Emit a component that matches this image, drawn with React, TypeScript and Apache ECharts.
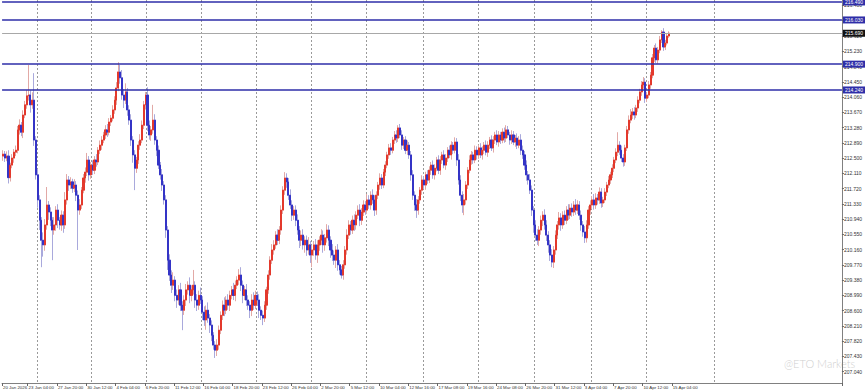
import React, { useEffect, useRef } from "react";
import * as echarts from "echarts";

// H4 candles, closes (open = previous close)
const firstOpen = 212.55;
const closes = [
  212.60,212.50,212.55,212.00,212.32,212.50,212.65,212.70,213.22,213.34,
  213.16,213.60,213.86,214.09,214.11,213.86,213.98,212.96,212.07,211.43,
  210.91,210.40,210.28,210.79,211.30,211.12,210.91,210.66,210.79,211.17,
  210.91,210.79,211.04,210.79,211.43,211.94,211.81,211.89,211.73,211.81,
  211.55,211.17,211.30,211.68,211.99,212.14,212.45,212.07,212.32,212.19,
  212.45,212.40,212.70,212.83,212.96,213.09,213.22,213.16,213.42,213.52,
  213.73,213.98,214.29,214.70,214.55,214.11,213.98,214.19,213.73,213.47,
  212.96,212.58,212.24,212.45,212.83,212.96,213.34,213.86,214.11,213.34,
  213.09,213.22,213.47,212.96,212.70,212.32,212.07,211.81,211.43,210.66,
  209.89,209.51,209.25,209.38,208.99,208.87,209.13,208.74,208.61,208.87,
  209.13,209.25,208.99,209.13,209.25,208.87,208.74,208.99,208.87,208.56,
  208.36,208.61,208.41,208.23,207.97,207.72,207.59,207.72,208.10,208.48,
  208.74,208.61,208.87,208.74,208.99,209.13,208.99,209.25,209.38,209.51,
  209.25,208.99,209.13,208.87,208.74,208.61,208.87,208.74,208.99,208.87,
  208.61,208.48,208.41,208.74,209.13,209.51,209.89,210.15,210.28,210.53,
  210.40,210.66,211.17,211.68,211.99,211.89,211.55,211.30,211.04,211.17,
  210.91,210.66,210.40,210.53,210.28,210.40,210.15,210.28,210.02,210.15,
  210.28,210.02,210.28,210.40,210.53,210.28,210.46,210.66,210.40,210.15,
  210.02,209.89,210.15,209.77,209.64,209.51,209.77,210.15,210.53,210.79,
  210.66,210.91,210.79,211.04,211.17,210.91,211.12,211.30,211.17,211.43,
  211.30,211.55,211.43,211.17,211.55,211.81,211.99,211.81,212.14,212.32,
  212.58,212.76,212.70,212.96,213.09,213.01,213.27,213.09,212.83,212.96,
  212.70,212.83,212.58,212.07,211.55,211.30,211.17,211.43,211.68,211.94,
  211.81,212.07,211.94,212.19,212.32,212.07,212.24,212.45,212.19,212.45,
  212.58,212.32,212.50,212.70,212.58,212.83,212.70,212.91,212.45,211.94,
  211.55,211.30,211.43,211.81,212.19,212.45,212.58,212.45,212.70,212.58,
  212.76,212.58,212.70,212.83,212.65,212.83,212.96,212.76,212.96,213.09,
  212.91,213.09,212.96,213.16,213.01,213.22,213.09,212.96,213.09,212.91,
  213.01,212.83,212.96,212.70,212.58,212.32,212.07,211.94,211.68,211.17,
  210.79,210.53,210.40,210.66,210.91,211.04,210.79,210.53,210.28,210.02,
  209.84,210.15,210.53,210.79,210.97,210.79,211.04,210.91,211.17,211.04,
  211.22,211.12,211.30,211.17,211.30,211.04,210.79,210.61,210.46,210.79,
  211.17,211.30,211.43,211.30,211.48,211.43,211.63,211.35,211.43,211.63,
  211.81,211.94,212.07,212.24,212.45,212.65,212.83,212.70,212.50,212.40,
  212.76,213.22,213.47,213.60,213.68,213.60,213.78,213.98,214.19,214.37,
  214.44,214.03,214.11,214.37,214.62,215.06,215.31,215.01,215.26,215.52,
  215.72,215.34,215.44,215.62,215.69,
];
const upperWicks = [
  0.10,0.08,0.12,0.15,0.06,0.10,0.08,0.12,0.10,0.15,
  0.08,0.12,0.10,0.15,0.77,0.12,0.20,0.69,0.10,0.15,
  0.12,0.08,0.20,0.15,0.46,0.10,0.12,0.08,0.20,0.10,
  0.15,0.08,0.12,0.10,0.20,0.15,0.10,0.12,0.08,0.15,
  0.10,0.12,0.15,0.08,0.10,0.12,0.18,0.10,0.08,0.12,
  0.10,0.15,0.08,0.12,0.10,0.08,0.12,0.15,0.10,0.08,
  0.12,0.10,0.15,0.25,0.18,0.20,0.15,0.22,0.10,0.12,
  0.15,0.10,0.12,0.08,0.10,0.15,0.12,0.10,0.08,0.20,
  0.12,0.10,0.39,0.15,0.10,0.12,0.08,0.15,0.10,0.12,
  0.10,0.15,0.12,0.20,0.10,0.15,0.12,0.18,0.10,0.12,
  0.15,0.10,0.20,0.12,0.39,0.10,0.15,0.12,0.20,0.10,
  0.15,0.12,0.20,0.10,0.12,0.08,0.10,0.15,0.12,0.10,
  0.12,0.20,0.10,0.15,0.12,0.10,0.18,0.12,0.10,0.15,
  0.20,0.12,0.10,0.15,0.12,0.10,0.15,0.20,0.12,0.10,
  0.15,0.10,0.12,0.10,0.08,0.12,0.10,0.15,0.12,0.10,
  0.15,0.10,0.12,0.10,0.15,0.12,0.10,0.15,0.12,0.10,
  0.12,0.15,0.10,0.12,0.15,0.10,0.12,0.20,0.10,0.12,
  0.10,0.15,0.12,0.10,0.15,0.12,0.10,0.15,0.12,0.10,
  0.15,0.12,0.10,0.15,0.12,0.10,0.12,0.10,0.15,0.12,
  0.10,0.12,0.15,0.10,0.12,0.15,0.10,0.12,0.10,0.15,
  0.12,0.10,0.15,0.12,0.10,0.08,0.12,0.10,0.08,0.10,
  0.08,0.10,0.12,0.08,0.10,0.12,0.07,0.10,0.12,0.08,
  0.10,0.12,0.08,0.10,0.12,0.10,0.15,0.10,0.08,0.12,
  0.10,0.08,0.12,0.10,0.08,0.12,0.10,0.08,0.12,0.10,
  0.08,0.12,0.10,0.08,0.12,0.10,0.08,0.12,0.10,0.15,
  0.12,0.10,0.15,0.10,0.08,0.12,0.10,0.08,0.12,0.10,
  0.08,0.12,0.10,0.08,0.12,0.10,0.08,0.12,0.10,0.08,
  0.12,0.10,0.08,0.10,0.12,0.12,0.10,0.08,0.12,0.10,
  0.08,0.12,0.10,0.15,0.12,0.10,0.12,0.10,0.15,0.12,
  0.10,0.12,0.15,0.10,0.12,0.10,0.15,0.12,0.10,0.12,
  0.15,0.10,0.12,0.10,0.15,0.12,0.10,0.12,0.10,0.15,
  0.10,0.12,0.10,0.15,0.12,0.10,0.12,0.10,0.15,0.12,
  0.10,0.12,0.10,0.15,0.12,0.10,0.12,0.10,0.08,0.10,
  0.08,0.10,0.08,0.10,0.08,0.10,0.33,0.10,0.12,0.10,
  0.08,0.10,0.12,0.15,0.10,0.12,0.08,0.10,0.08,0.10,
  0.13,0.10,0.08,0.10,0.08,0.10,0.08,0.12,0.08,0.10,
  0.05,0.10,0.08,0.06,0.05,
];
const lowerWicks = [
  0.12,0.10,0.08,0.15,0.10,0.08,0.12,0.10,0.08,0.12,
  0.10,0.15,0.08,0.10,0.12,0.20,0.10,0.15,0.12,0.20,
  0.25,0.69,0.30,0.15,0.12,0.20,0.15,0.77,0.12,0.15,
  0.20,0.12,0.15,0.20,0.10,0.12,0.15,0.10,0.12,0.10,
  0.15,1.02,0.12,0.10,0.08,0.12,0.10,0.15,0.10,0.12,
  0.10,0.12,0.08,0.10,0.12,0.08,0.10,0.12,0.08,0.10,
  0.08,0.10,0.12,0.08,0.15,0.12,0.20,0.10,0.15,0.12,
  0.15,0.20,0.56,0.12,0.10,0.12,0.08,0.10,0.12,0.15,
  0.12,0.15,0.10,0.12,0.15,0.10,0.12,0.15,0.12,0.20,
  0.25,0.15,0.20,0.12,0.15,0.20,0.12,0.15,0.51,0.12,
  0.15,0.12,0.20,0.15,0.12,0.20,0.15,0.12,0.10,0.20,
  0.15,0.25,0.12,0.20,0.15,0.12,0.20,0.15,0.12,0.10,
  0.12,0.15,0.10,0.12,0.15,0.10,0.12,0.15,0.10,0.12,
  0.15,0.20,0.12,0.15,0.12,0.20,0.15,0.12,0.10,0.15,
  0.20,0.12,0.18,0.10,0.12,0.10,0.12,0.10,0.12,0.10,
  0.12,0.10,0.12,0.10,0.12,0.15,0.12,0.10,0.15,0.12,
  0.15,0.12,0.20,0.15,0.12,0.20,0.15,0.12,0.20,0.31,
  0.15,0.12,0.20,0.15,0.12,0.20,0.15,0.12,0.15,0.20,
  0.15,0.12,0.20,0.15,0.12,0.09,0.12,0.10,0.12,0.10,
  0.12,0.10,0.15,0.12,0.10,0.15,0.12,0.10,0.12,0.10,
  0.10,0.12,0.10,0.15,0.12,0.10,0.12,0.10,0.08,0.10,
  0.08,0.10,0.12,0.08,0.10,0.12,0.10,0.08,0.12,0.10,
  0.10,0.12,0.10,0.15,0.12,0.15,0.20,0.12,0.10,0.12,
  0.10,0.12,0.10,0.08,0.12,0.10,0.12,0.08,0.10,0.12,
  0.10,0.08,0.12,0.10,0.08,0.12,0.10,0.08,0.15,0.12,
  0.15,0.20,0.26,0.12,0.10,0.08,0.12,0.10,0.08,0.12,
  0.10,0.08,0.12,0.10,0.08,0.12,0.10,0.08,0.12,0.10,
  0.08,0.12,0.10,0.08,0.12,0.10,0.08,0.12,0.10,0.08,
  0.12,0.10,0.08,0.12,0.10,0.12,0.15,0.12,0.10,0.15,
  0.20,0.15,0.12,0.15,0.12,0.15,0.12,0.15,0.20,0.15,
  0.13,0.15,0.12,0.10,0.12,0.15,0.10,0.12,0.10,0.12,
  0.10,0.12,0.10,0.12,0.10,0.12,0.15,0.12,0.13,0.12,
  0.10,0.12,0.10,0.12,0.10,0.12,0.10,0.12,0.10,0.08,
  0.10,0.08,0.10,0.08,0.10,0.08,0.10,0.12,0.10,0.12,
  0.10,0.08,0.10,0.08,0.10,0.12,0.08,0.10,0.08,0.10,
  0.10,0.12,0.10,0.08,0.10,0.08,0.10,0.08,0.10,0.08,
  0.08,0.10,0.08,0.06,0.05,
];

const timeLabels = [
  "20 Jan 2026", "23 Jan 04:00", "27 Jan 20:00", "30 Jan 12:00", "4 Feb 04:00",
  "6 Feb 20:00", "11 Feb 12:00", "16 Feb 04:00", "18 Feb 20:00", "23 Feb 12:00",
  "26 Feb 04:00", "2 Mar 20:00", "5 Mar 12:00", "10 Mar 04:00", "12 Mar 16:00",
  "17 Mar 08:00", "19 Mar 16:00", "24 Mar 08:00", "26 Mar 20:00", "31 Mar 12:00",
  "3 Apr 04:00", "7 Apr 20:00", "10 Apr 12:00", "15 Apr 04:00",
];
const weekStartIdx = [19, 49, 79, 109, 139, 169, 199, 230, 260, 291, 322, 352, 389];
const yTicks = [
  207.04, 207.43, 207.82, 208.21, 208.60, 208.99, 209.38, 209.77, 210.16, 210.55,
  210.94, 211.33, 211.72, 212.11, 212.50, 212.89, 213.28, 213.67, 214.06, 214.45,
  214.84, 215.23, 215.62, 216.01, 216.40,
];
const levelLines = [216.49, 216.03, 214.9, 214.24];
const lastPrice = 215.69;
const totalSlots = 459;
const yMin = 206.75;
const yMax = 216.54;

export default function App() {
  const ref = useRef<HTMLDivElement>(null);
  useEffect(() => {
    document.body.style.margin = "0";
    const chart = echarts.init(ref.current!, null, { renderer: "svg" });
    const categories = Array.from({ length: totalSlots }, (_, i) => String(i));
    const ohlc = closes.map((c, i) => {
      const o = i === 0 ? firstOpen : closes[i - 1];
      return [o, c, +(Math.min(o, c) - lowerWicks[i]).toFixed(2), +(Math.max(o, c) + upperWicks[i]).toFixed(2)];
    });
    const bodies = ohlc.map(([o, c]) => [o, c, Math.min(o, c), Math.max(o, c)]);
    const labelAt = new Map<number, string>();
    timeLabels.forEach((t, k) => labelAt.set(k === 0 ? 0 : 14 + 16 * (k - 1), t));
    const weekSet = new Set(weekStartIdx);
    const boxLabel = (bg: string, v: number) => ({
      show: true,
      position: "end",
      formatter: v.toFixed(3),
      backgroundColor: bg,
      color: "#fff",
      fontSize: 5,
      fontFamily: "Liberation Sans",
      padding: [1, 2, 1, 2],
      distance: 1,
    });
    chart.setOption({
      animation: false,
      backgroundColor: "#ffffff",
      grid: { left: 0, right: 19, top: 0, bottom: 9, containLabel: false },
      xAxis: {
        type: "category",
        data: categories,
        boundaryGap: true,
        axisLine: { show: true, lineStyle: { color: "#808080", width: 1 } },
        axisTick: {
          show: true,
          interval: (i: number) => labelAt.has(i),
          length: 3,
          lineStyle: { color: "#666" },
        },
        axisLabel: {
          show: true,
          interval: (i: number) => labelAt.has(i),
          formatter: (_v: string, i: number) => labelAt.get(i) ?? "",
          fontSize: 4.4,
          color: "#333",
          align: "left",
          margin: 2,
          showMinLabel: true,
          hideOverlap: false,
          fontFamily: "Liberation Sans",
        },
        splitLine: {
          show: true,
          interval: (i: number) => weekSet.has(i),
          lineStyle: { color: "#9a9a9a", type: [2, 2], width: 1 },
        },
      },
      yAxis: {
        type: "value",
        position: "right",
        min: yMin,
        max: yMax,
        axisLine: { show: true, lineStyle: { color: "#808080", width: 1 } },
        axisTick: { show: true, customValues: yTicks, length: 2, lineStyle: { color: "#666" } },
        axisLabel: {
          show: true,
          customValues: yTicks,
          formatter: (v: number) => v.toFixed(3),
          fontSize: 5,
          color: "#333",
          margin: 2,
          fontFamily: "Liberation Sans",
        },
        splitLine: { show: false },
      },
      series: [
        {
          type: "candlestick",
          data: ohlc,
          barWidth: 1.6,
          itemStyle: {
            color: "#e2a9a6",
            color0: "#a9a9dc",
            borderColor: "#e2a9a6",
            borderColor0: "#a9a9dc",
            borderWidth: 1,
          },
          markLine: {
            symbol: "none",
            silent: true,
            data: [
              ...levelLines.map((v) => ({
                yAxis: v,
                lineStyle: { color: "#2e2ea8", width: 1.5, type: "solid" },
                label: boxLabel("#2e2ea8", v),
              })),
              {
                yAxis: lastPrice,
                lineStyle: { color: "#a8a8a8", width: 1, type: "solid" },
                label: boxLabel("#111111", lastPrice),
              },
            ],
          },
        },
        {
          type: "candlestick",
          data: bodies,
          barWidth: 1.6,
          itemStyle: {
            color: "#e3392c",
            color0: "#3434c6",
            borderColor: "#e3392c",
            borderColor0: "#3434c6",
            borderWidth: 1,
          },
        },
      ],
      graphic: [
        {
          type: "text",
          left: 784,
          top: 358,
          style: {
            text: "@ETO Markets",
            fontSize: 11,
            fill: "#cfcfcf",
            fontFamily: "Lato",
            fontWeight: 300,
          },
        },
      ],
    });
    return () => chart.dispose();
  }, []);
  return (
    <div
      ref={ref}
      style={{ position: "absolute", left: 0, top: 0, width: 865, height: 392 }}
    />
  );
}
